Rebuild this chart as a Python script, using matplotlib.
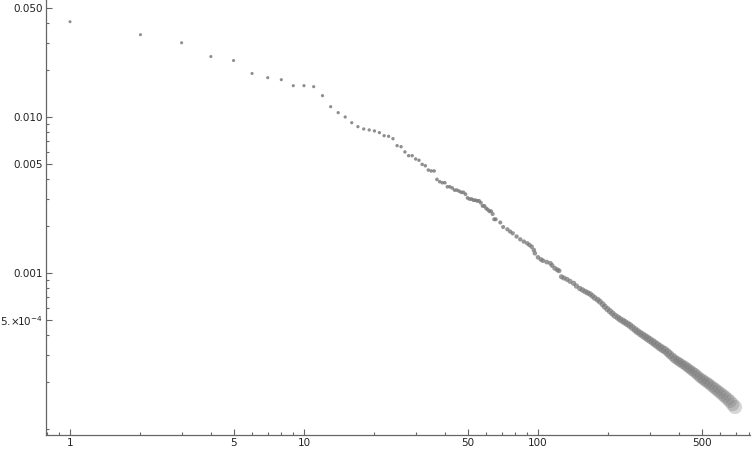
import numpy as np
import matplotlib
matplotlib.use("Agg")
import matplotlib.pyplot as plt
from matplotlib.ticker import FixedLocator, LogLocator, NullFormatter, FixedFormatter

# ── Data: rank vs relative frequency ─────────────────────────────────────────
ranks_head = list(range(1, 67))
freq_head = [
    0.0408, 0.0337, 0.0299, 0.0244, 0.0230, 0.0190, 0.01786, 0.01734, 0.01587, 0.01587,
    0.01564, 0.01370, 0.01164, 0.01066, 0.0100, 0.00919, 0.00867, 0.00838, 0.00826, 0.00814,
    0.00794, 0.00759, 0.00752, 0.00726, 0.00655, 0.00645, 0.00597, 0.00565, 0.00565, 0.00538,
    0.00528, 0.00497, 0.00487, 0.00457, 0.00451, 0.00451, 0.00398, 0.00385, 0.00379, 0.00379,
    0.00357, 0.00357, 0.00351, 0.00340, 0.00340, 0.00335, 0.00329, 0.00329, 0.00320, 0.00303,
    0.00298, 0.00298, 0.00293, 0.00293, 0.00290, 0.00290, 0.00282, 0.00269, 0.00269, 0.00260,
    0.00255, 0.00249, 0.00249, 0.00239, 0.00221, 0.00221,
]

ranks_mid = [
    69, 71, 74, 76, 78, 81, 84, 87, 90, 92,
    94, 96, 97, 100, 103, 105, 109, 113, 115, 118,
    121, 123, 126, 129, 133, 137, 142, 146,
]
freq_mid = [
    0.002108, 0.001972, 0.001906, 0.001845, 0.001797, 0.001714, 0.001644, 0.001591, 0.001550, 0.001512,
    0.001474, 0.001404, 0.001338, 0.001261, 0.001221, 0.001200, 0.001176, 0.001154, 0.001117, 0.001072,
    0.001048, 0.001034, 0.000947, 0.000929, 0.000911, 0.000885, 0.000859, 0.000825,
]

ranks_tail = [
    151, 155, 159, 163, 167, 171, 175, 180, 184, 189,
    193, 198, 203, 208, 213, 219, 224, 230, 235, 241,
    247, 253, 260, 266, 273, 280, 287, 294, 301, 309,
    316, 324, 332, 340, 349, 358, 366, 376, 385, 395,
    404, 414, 425, 435, 446, 457, 469, 480, 492, 505,
    517, 530, 543, 557, 571, 585, 600, 615, 630, 646,
    662, 678, 695,
]
freq_tail = [
    7.957e-4, 7.783e-4, 7.612e-4, 7.468e-4, 7.336e-4, 7.123e-4, 6.916e-4, 6.735e-4, 6.549e-4, 6.310e-4,
    6.081e-4, 5.878e-4, 5.690e-4, 5.508e-4, 5.332e-4, 5.192e-4, 5.056e-4, 4.945e-4, 4.837e-4, 4.724e-4,
    4.614e-4, 4.474e-4, 4.337e-4, 4.217e-4, 4.107e-4, 4.005e-4, 3.906e-4, 3.809e-4, 3.720e-4, 3.622e-4,
    3.533e-4, 3.440e-4, 3.345e-4, 3.267e-4, 3.196e-4, 3.094e-4, 2.995e-4, 2.894e-4, 2.802e-4, 2.737e-4,
    2.673e-4, 2.610e-4, 2.550e-4, 2.479e-4, 2.414e-4, 2.347e-4, 2.286e-4, 2.213e-4, 2.139e-4, 2.083e-4,
    2.031e-4, 1.978e-4, 1.929e-4, 1.867e-4, 1.816e-4, 1.763e-4, 1.712e-4, 1.659e-4, 1.611e-4, 1.557e-4,
    1.505e-4, 1.442e-4, 1.384e-4,
]

x_major = [1, 5, 10, 50, 100, 500]
x_labels = ["1", "5", "10", "50", "100", "500"]
y_major = [0.05, 0.01, 0.005, 0.001, 5e-4]
y_labels = ["0.050", "0.010", "0.005", "0.001", r"$5.\!{\times}\!10^{-4}$"]

ranks = np.array(ranks_head + ranks_mid + ranks_tail, dtype=float)
freq = np.array(freq_head + freq_mid + freq_tail)

# marker diameter grows with rank (px -> points at dpi 100); big ones are more see-through
diam_px = 3.0 + 0.016 * ranks
sizes = (diam_px * 0.72) ** 2
alphas = np.clip(0.85 - 0.0008 * ranks, 0.3, 0.85)
colors = np.zeros((len(ranks), 4))
colors[:, :3] = 0.47
colors[:, 3] = alphas

# ── Plot ─────────────────────────────────────────────────────────────────────
fig = plt.figure(figsize=(7.52, 4.53), dpi=100)
ax = fig.add_axes([0.0612, 0.0397, 0.9361, 0.9603])

ax.scatter(ranks, freq, s=sizes, c=colors, linewidths=0)

ax.set_xscale("log")
ax.set_yscale("log")
ax.set_xlim(0.7898, 805.4)
ax.set_ylim(9.16e-5, 0.0562)

ax.xaxis.set_major_locator(FixedLocator(x_major))
ax.xaxis.set_major_formatter(FixedFormatter(x_labels))
ax.xaxis.set_minor_locator(LogLocator(base=10, subs=np.arange(1, 10), numticks=50))
ax.xaxis.set_minor_formatter(NullFormatter())

ax.yaxis.set_major_locator(FixedLocator(y_major))
ax.yaxis.set_major_formatter(FixedFormatter(y_labels))
ax.yaxis.set_minor_locator(LogLocator(base=10, subs=np.arange(1, 10), numticks=50))
ax.yaxis.set_minor_formatter(NullFormatter())

for side in ["top", "right"]:
    ax.spines[side].set_visible(False)
for side in ["left", "bottom"]:
    ax.spines[side].set_color("#666666")
    ax.spines[side].set_linewidth(0.9)

ax.tick_params(which="both", direction="in", color="#666666", labelsize=7.5,
               labelcolor="#222222", width=0.8)
ax.tick_params(which="major", length=4.5, pad=2.5)
ax.tick_params(which="minor", length=2.4)

fig.savefig("out.png", dpi=100)
